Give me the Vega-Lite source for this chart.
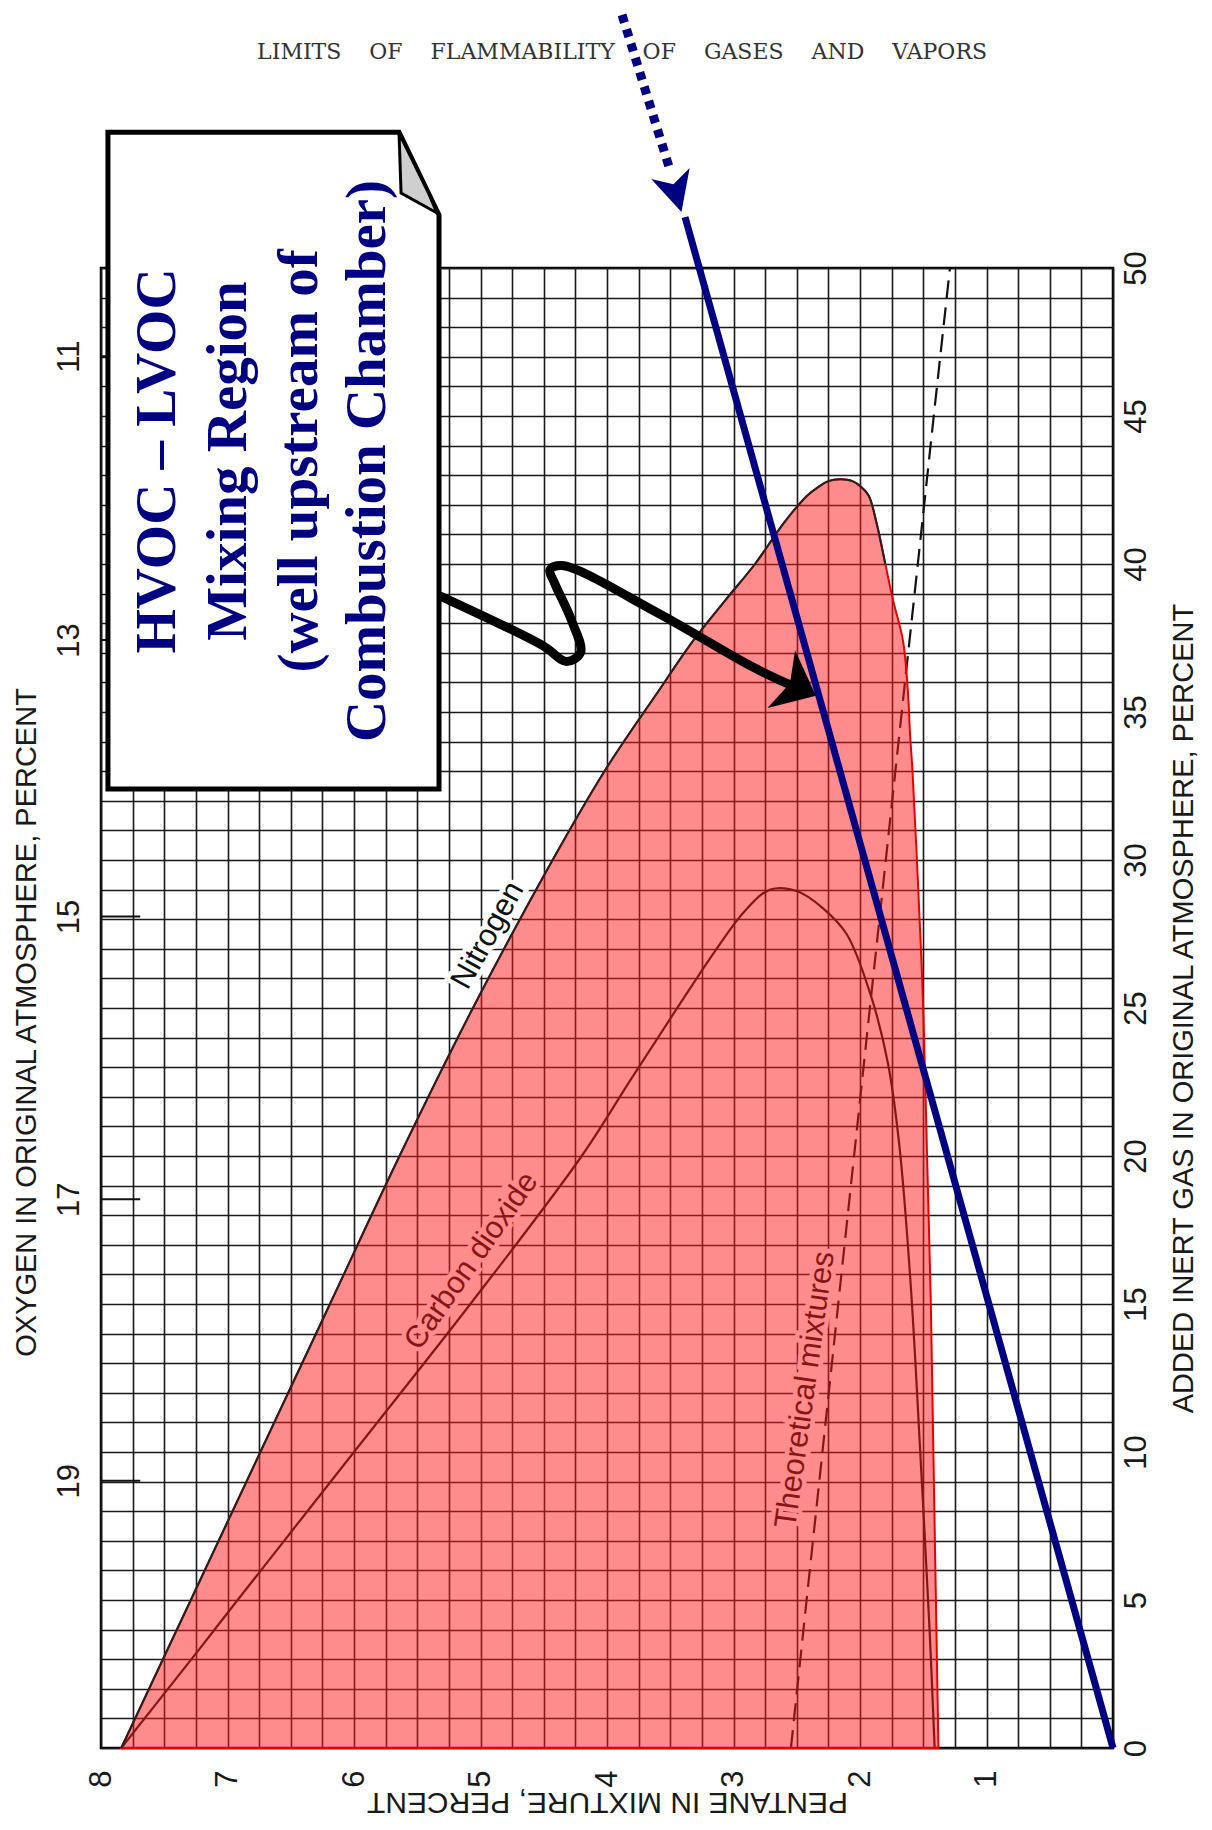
{
  "$schema": "https://vega.github.io/schema/vega-lite/v6.json",
  "width": 1012,
  "height": 1480,
  "autosize": "none",
  "padding": {"left": 101, "top": 268, "right": 99, "bottom": 82},
  "background": "white",
  "config": {
    "view": {"stroke": "black", "strokeWidth": 2.5},
    "axis": {
      "labelFont": "Liberation Sans Narrow, Arial Narrow, Liberation Sans, sans-serif",
      "titleFont": "Liberation Sans Narrow, Arial Narrow, Liberation Sans, sans-serif",
      "labelColor": "#1a1a1a",
      "titleColor": "#1a1a1a",
      "titleFontWeight": "normal",
      "gridColor": "#1a1a1a",
      "gridWidth": 1.6,
      "gridOpacity": 1
    }
  },
  "datasets": {
    "theo": [
      {"p": 2.546, "i": 0}, {"p": 2.422, "i": 5}, {"p": 2.297, "i": 10}, {"p": 2.172, "i": 15},
      {"p": 2.047, "i": 20}, {"p": 1.922, "i": 25}, {"p": 1.796, "i": 30}, {"p": 1.670, "i": 35},
      {"p": 1.543, "i": 40}, {"p": 1.417, "i": 45}, {"p": 1.289, "i": 50}
    ],
    "red": [
      {"i": 0, "pL": 7.84, "pR": 1.38}, {"i": 5, "pL": 7.29, "pR": 1.40}, {"i": 10, "pL": 6.74, "pR": 1.42},
      {"i": 15, "pL": 6.19, "pR": 1.44}, {"i": 20, "pL": 5.64, "pR": 1.47}, {"i": 25, "pL": 5.06, "pR": 1.50},
      {"i": 30, "pL": 4.43, "pR": 1.55}, {"i": 33, "pL": 4.02, "pR": 1.585}, {"i": 34.3, "pL": 3.82, "pR": 1.605},
      {"i": 35.6, "pL": 3.61, "pR": 1.62}, {"i": 37.4, "pL": 3.32, "pR": 1.66}, {"i": 38.8, "pL": 3.06, "pR": 1.74},
      {"i": 40, "pL": 2.83, "pR": 1.80}, {"i": 41.4, "pL": 2.60, "pR": 1.87}, {"i": 42.3, "pL": 2.42, "pR": 1.93},
      {"i": 42.6, "pL": 2.33, "pR": 1.99}, {"i": 42.8, "pL": 2.25, "pR": 2.06}, {"i": 42.86, "pL": 2.16, "pR": 2.14}
    ],
    "n2": [
      {"k": 1, "p": 7.84, "i": 0}, {"k": 2, "p": 7.29, "i": 5}, {"k": 3, "p": 6.74, "i": 10}, {"k": 4, "p": 6.19, "i": 15},
      {"k": 5, "p": 5.64, "i": 20}, {"k": 6, "p": 5.06, "i": 25}, {"k": 7, "p": 4.43, "i": 30}, {"k": 8, "p": 4.02, "i": 33},
      {"k": 9, "p": 3.61, "i": 35.6}, {"k": 10, "p": 3.32, "i": 37.4}, {"k": 11, "p": 3.06, "i": 38.8}, {"k": 12, "p": 2.83, "i": 40},
      {"k": 13, "p": 2.60, "i": 41.4}, {"k": 14, "p": 2.42, "i": 42.3}, {"k": 15, "p": 2.33, "i": 42.6}, {"k": 16, "p": 2.25, "i": 42.8},
      {"k": 17, "p": 2.16, "i": 42.86}, {"k": 18, "p": 2.06, "i": 42.8}, {"k": 19, "p": 1.99, "i": 42.6}, {"k": 20, "p": 1.93, "i": 42.3},
      {"k": 21, "p": 1.87, "i": 41.4}, {"k": 22, "p": 1.80, "i": 40}
    ],
    "co2": [
      {"k": 1, "p": 7.84, "i": 0}, {"k": 2, "p": 7.23, "i": 3.3}, {"k": 3, "p": 6.92, "i": 5}, {"k": 4, "p": 6.00, "i": 10},
      {"k": 5, "p": 5.08, "i": 15}, {"k": 6, "p": 4.20, "i": 20}, {"k": 7, "p": 3.81, "i": 22.6}, {"k": 8, "p": 3.46, "i": 24.9},
      {"k": 9, "p": 3.15, "i": 26.9}, {"k": 10, "p": 2.91, "i": 28.28}, {"k": 11, "p": 2.71, "i": 29.0}, {"k": 12, "p": 2.50, "i": 28.95},
      {"k": 13, "p": 2.29, "i": 28.36}, {"k": 14, "p": 2.106, "i": 27.5}, {"k": 15, "p": 1.92, "i": 25.5}, {"k": 16, "p": 1.78, "i": 23.15},
      {"k": 17, "p": 1.69, "i": 20.4}, {"k": 18, "p": 1.60, "i": 15.7}, {"k": 19, "p": 1.52, "i": 9.7}, {"k": 20, "p": 1.45, "i": 4},
      {"k": 21, "p": 1.41, "i": 0}
    ],
    "lblN2": [{"t": "Nitrogen", "p": 4.94, "i": 27.45}],
    "lblCO2": [{"t": "Carbon dioxide", "p": 5.07, "i": 16.45}],
    "lblTheo": [{"t": "Theoretical mixtures", "p": 2.43, "i": 12.1}],
    "oxy": [{"i": 9.03}, {"i": 18.54}, {"i": 28.09}, {"i": 37.43}, {"i": 47.02}],
    "blue": [{"p": 0, "i": 0}, {"p": 3.383, "i": 51.72}],
    "dots": [{"p": 3.881, "i": 58.55}, {"p": 3.502, "i": 53.31}],
    "bluehead": [{"p": 3.455, "i": 52.54}],
    "box": [
      {"i": 32.40, "a": 7.945, "b": 5.328},
      {"i": 51.79, "a": 7.945, "b": 5.328},
      {"i": 54.59, "a": 7.945, "b": 5.644}
    ],
    "fold": [
      {"i": 51.86, "a": 5.344, "b": 5.344},
      {"i": 52.53, "a": 5.628, "b": 5.411},
      {"i": 54.56, "a": 5.644, "b": 5.644}
    ],
    "boxtext": [
      {"t": "HVOC – LVOC", "p": 7.549, "i": 43.48},
      {"t": "Mixing Region", "p": 6.988, "i": 43.48},
      {"t": "(well upstream of", "p": 6.427, "i": 43.48},
      {"t": "Combustion Chamber)", "p": 5.889, "i": 43.48}
    ],
    "conn": [
      {"k": 1, "p": 5.309, "i": 38.90}, {"k": 2, "p": 4.507, "i": 37.24}, {"k": 3, "p": 4.321, "i": 36.71},
      {"k": 4, "p": 4.209, "i": 37.01}, {"k": 5, "p": 4.285, "i": 38.14}, {"k": 6, "p": 4.414, "i": 39.35},
      {"k": 7, "p": 4.451, "i": 39.80}, {"k": 8, "p": 4.358, "i": 39.95}, {"k": 9, "p": 3.613, "i": 38.38},
      {"k": 10, "p": 2.866, "i": 36.56}, {"k": 11, "p": 2.560, "i": 35.93}
    ],
    "blackhead": [{"p": 2.485, "i": 35.83}],
    "pagetitle": [{"t": "LIMITS\u00a0\u00a0\u00a0\u00a0OF\u00a0\u00a0\u00a0\u00a0FLAMMABILITY\u00a0\u00a0\u00a0\u00a0OF\u00a0\u00a0\u00a0\u00a0GASES\u00a0\u00a0\u00a0\u00a0AND\u00a0\u00a0\u00a0\u00a0VAPORS", "p": 3.881, "i": 57.30}]
  },
  "resolve": {"axis": {"x": "independent", "y": "independent"}},
  "layer": [
    {
      "data": {"name": "theo"},
      "mark": {"type": "line", "color": "#111111", "strokeWidth": 2.2, "strokeDash": [18, 9]},
      "encoding": {
        "x": {
          "field": "p", "type": "quantitative",
          "scale": {"domain": [0, 8], "reverse": true, "nice": false, "zero": false},
          "axis": {
            "orient": "bottom",
            "values": [0, 0.25, 0.5, 0.75, 1, 1.25, 1.5, 1.75, 2, 2.25, 2.5, 2.75, 3, 3.25, 3.5, 3.75, 4, 4.25, 4.5, 4.75, 5, 5.25, 5.5, 5.75, 6, 6.25, 6.5, 6.75, 7, 7.25, 7.5, 7.75, 8],
            "labelExpr": "datum.value >= 1 && datum.value % 1 === 0 ? format(datum.value, '.0f') : ''",
            "ticks": false, "domain": false, "grid": true,
            "labelAngle": 270, "labelAlign": "right", "labelBaseline": "middle",
            "labelPadding": 22, "labelFontSize": 31, "labelOverlap": false, "labelFlush": false,
            "title": "PENTANE IN MIXTURE, PERCENT", "titleFontSize": 30, "titleAngle": 180,
            "titleX": 506, "titleY": 53, "titleAlign": "center", "titleBaseline": "middle"
          }
        },
        "y": {
          "field": "i", "type": "quantitative",
          "scale": {"domain": [0, 50], "nice": false, "zero": false},
          "axis": {
            "orient": "right",
            "values": [0,1,2,3,4,5,6,7,8,9,10,11,12,13,14,15,16,17,18,19,20,21,22,23,24,25,26,27,28,29,30,31,32,33,34,35,36,37,38,39,40,41,42,43,44,45,46,47,48,49,50],
            "labelExpr": "datum.value % 5 === 0 ? datum.label : ''",
            "ticks": false, "domain": false, "grid": true,
            "labelAngle": 270, "labelAlign": "center", "labelBaseline": "top",
            "labelPadding": 8, "labelFontSize": 31, "labelOverlap": false, "labelFlush": false,
            "title": "ADDED INERT GAS IN ORIGINAL ATMOSPHERE, PERCENT", "titleFontSize": 29, "titleAngle": 270,
            "titleX": 70, "titleY": 740, "titleAlign": "center", "titleBaseline": "middle"
          }
        }
      }
    },
    {
      "data": {"name": "pagetitle"},
      "mark": {"type": "text", "font": "DejaVu Serif", "fontSize": 22, "color": "#333333", "align": "center", "baseline": "middle"},
      "encoding": {
        "x": {"field": "p", "type": "quantitative", "axis": null},
        "y": {"field": "i", "type": "quantitative", "axis": null},
        "text": {"field": "t"}
      }
    },
    {
      "data": {"name": "co2"},
      "mark": {"type": "line", "color": "#111111", "strokeWidth": 2.2, "interpolate": "catmull-rom"},
      "encoding": {
        "x": {"field": "p", "type": "quantitative", "axis": null},
        "y": {"field": "i", "type": "quantitative", "axis": null},
        "order": {"field": "k", "type": "quantitative"}
      }
    },
    {
      "data": {"name": "lblN2"},
      "mark": {"type": "text", "angle": 299, "font": "Liberation Sans Narrow, Arial Narrow, Liberation Sans, sans-serif", "fontSize": 31, "align": "center", "baseline": "middle", "stroke": "white", "strokeWidth": 9, "color": "white"},
      "encoding": {"x": {"field": "p", "type": "quantitative", "axis": null}, "y": {"field": "i", "type": "quantitative", "axis": null}, "text": {"field": "t"}}
    },
    {
      "data": {"name": "lblN2"},
      "mark": {"type": "text", "angle": 299, "font": "Liberation Sans Narrow, Arial Narrow, Liberation Sans, sans-serif", "fontSize": 31, "align": "center", "baseline": "middle", "color": "#111111"},
      "encoding": {"x": {"field": "p", "type": "quantitative", "axis": null}, "y": {"field": "i", "type": "quantitative", "axis": null}, "text": {"field": "t"}}
    },
    {
      "data": {"name": "lblCO2"},
      "mark": {"type": "text", "angle": 305, "font": "Liberation Sans Narrow, Arial Narrow, Liberation Sans, sans-serif", "fontSize": 31, "align": "center", "baseline": "middle", "stroke": "white", "strokeWidth": 9, "color": "white"},
      "encoding": {"x": {"field": "p", "type": "quantitative", "axis": null}, "y": {"field": "i", "type": "quantitative", "axis": null}, "text": {"field": "t"}}
    },
    {
      "data": {"name": "lblCO2"},
      "mark": {"type": "text", "angle": 305, "font": "Liberation Sans Narrow, Arial Narrow, Liberation Sans, sans-serif", "fontSize": 31, "align": "center", "baseline": "middle", "color": "#111111"},
      "encoding": {"x": {"field": "p", "type": "quantitative", "axis": null}, "y": {"field": "i", "type": "quantitative", "axis": null}, "text": {"field": "t"}}
    },
    {
      "data": {"name": "lblTheo"},
      "mark": {"type": "text", "angle": 278, "font": "Liberation Sans Narrow, Arial Narrow, Liberation Sans, sans-serif", "fontSize": 31, "align": "center", "baseline": "middle", "stroke": "white", "strokeWidth": 9, "color": "white"},
      "encoding": {"x": {"field": "p", "type": "quantitative", "axis": null}, "y": {"field": "i", "type": "quantitative", "axis": null}, "text": {"field": "t"}}
    },
    {
      "data": {"name": "lblTheo"},
      "mark": {"type": "text", "angle": 278, "font": "Liberation Sans Narrow, Arial Narrow, Liberation Sans, sans-serif", "fontSize": 31, "align": "center", "baseline": "middle", "color": "#111111"},
      "encoding": {"x": {"field": "p", "type": "quantitative", "axis": null}, "y": {"field": "i", "type": "quantitative", "axis": null}, "text": {"field": "t"}}
    },
    {
      "data": {"name": "red"},
      "mark": {"type": "area", "orient": "horizontal", "interpolate": "catmull-rom", "fill": "#ff1a1a", "fillOpacity": 0.5, "stroke": "#e60000", "strokeWidth": 2},
      "encoding": {
        "x": {"field": "pL", "type": "quantitative", "axis": null},
        "x2": {"field": "pR"},
        "y": {"field": "i", "type": "quantitative", "axis": null}
      }
    },
    {
      "data": {"name": "n2"},
      "mark": {"type": "line", "color": "#222222", "strokeWidth": 2, "interpolate": "catmull-rom"},
      "encoding": {
        "x": {"field": "p", "type": "quantitative", "axis": null},
        "y": {"field": "i", "type": "quantitative", "axis": null},
        "order": {"field": "k", "type": "quantitative"}
      }
    },
    {
      "data": {"name": "oxy"},
      "mark": {"type": "rule", "color": "#111111", "strokeWidth": 2},
      "encoding": {
        "x": {"datum": 8, "type": "quantitative", "axis": null},
        "x2": {"datum": 7.69},
        "y": {
          "field": "i", "type": "quantitative",
          "axis": {
            "orient": "left",
            "values": [9.03, 18.54, 28.09, 37.43, 47.02],
            "labelExpr": "format(20.9 - 0.209 * datum.value, '.0f')",
            "ticks": false, "domain": false, "grid": false,
            "labelAngle": 270, "labelAlign": "center", "labelBaseline": "bottom",
            "labelPadding": 16, "labelFontSize": 31, "labelOverlap": false, "labelFlush": false,
            "title": "OXYGEN IN ORIGINAL ATMOSPHERE, PERCENT", "titleFontSize": 29, "titleAngle": 270,
            "titleX": -75, "titleY": 754, "titleAlign": "center", "titleBaseline": "middle"
          }
        }
      }
    },
    {
      "data": {"name": "blue"},
      "mark": {"type": "line", "color": "#000080", "strokeWidth": 7, "strokeCap": "butt"},
      "encoding": {
        "x": {"field": "p", "type": "quantitative", "axis": null},
        "y": {"field": "i", "type": "quantitative", "axis": null}
      }
    },
    {
      "data": {"name": "dots"},
      "mark": {"type": "line", "color": "#000080", "strokeWidth": 9, "strokeDash": [8, 7], "strokeCap": "butt"},
      "encoding": {
        "x": {"field": "p", "type": "quantitative", "axis": null},
        "y": {"field": "i", "type": "quantitative", "axis": null}
      }
    },
    {
      "data": {"name": "bluehead"},
      "mark": {"type": "point", "shape": "M0,1L-1,-1L0,-0.45L1,-1Z", "size": 1600, "angle": -16, "filled": true, "color": "#000080", "opacity": 1, "strokeWidth": 0},
      "encoding": {
        "x": {"field": "p", "type": "quantitative", "axis": null},
        "y": {"field": "i", "type": "quantitative", "axis": null}
      }
    },
    {
      "data": {"name": "box"},
      "mark": {"type": "area", "orient": "horizontal", "fill": "white", "fillOpacity": 1, "stroke": "black", "strokeWidth": 5, "strokeJoin": "miter"},
      "encoding": {
        "x": {"field": "a", "type": "quantitative", "axis": null},
        "x2": {"field": "b"},
        "y": {"field": "i", "type": "quantitative", "axis": null}
      }
    },
    {
      "data": {"name": "fold"},
      "mark": {"type": "area", "orient": "horizontal", "fill": "#cfcfcf", "fillOpacity": 1, "stroke": "black", "strokeWidth": 3, "interpolate": "linear"},
      "encoding": {
        "x": {"field": "a", "type": "quantitative", "axis": null},
        "x2": {"field": "b"},
        "y": {"field": "i", "type": "quantitative", "axis": null}
      }
    },
    {
      "data": {"name": "boxtext"},
      "mark": {"type": "text", "angle": 270, "align": "center", "baseline": "middle", "font": "Liberation Serif", "fontSize": 57, "fontWeight": "bold", "color": "#000080"},
      "encoding": {
        "x": {"field": "p", "type": "quantitative", "axis": null},
        "y": {"field": "i", "type": "quantitative", "axis": null},
        "text": {"field": "t"}
      }
    },
    {
      "data": {"name": "conn"},
      "mark": {"type": "line", "color": "black", "strokeWidth": 9, "interpolate": "catmull-rom", "strokeCap": "round", "strokeJoin": "round"},
      "encoding": {
        "x": {"field": "p", "type": "quantitative", "axis": null},
        "y": {"field": "i", "type": "quantitative", "axis": null},
        "order": {"field": "k", "type": "quantitative"}
      }
    },
    {
      "data": {"name": "blackhead"},
      "mark": {"type": "point", "shape": "M0,0.6L-1,-0.6L0,-0.3L1,-0.6Z", "size": 4096, "angle": -64.5, "filled": true, "color": "black", "opacity": 1, "strokeWidth": 0},
      "encoding": {
        "x": {"field": "p", "type": "quantitative", "axis": null},
        "y": {"field": "i", "type": "quantitative", "axis": null}
      }
    }
  ]
}
